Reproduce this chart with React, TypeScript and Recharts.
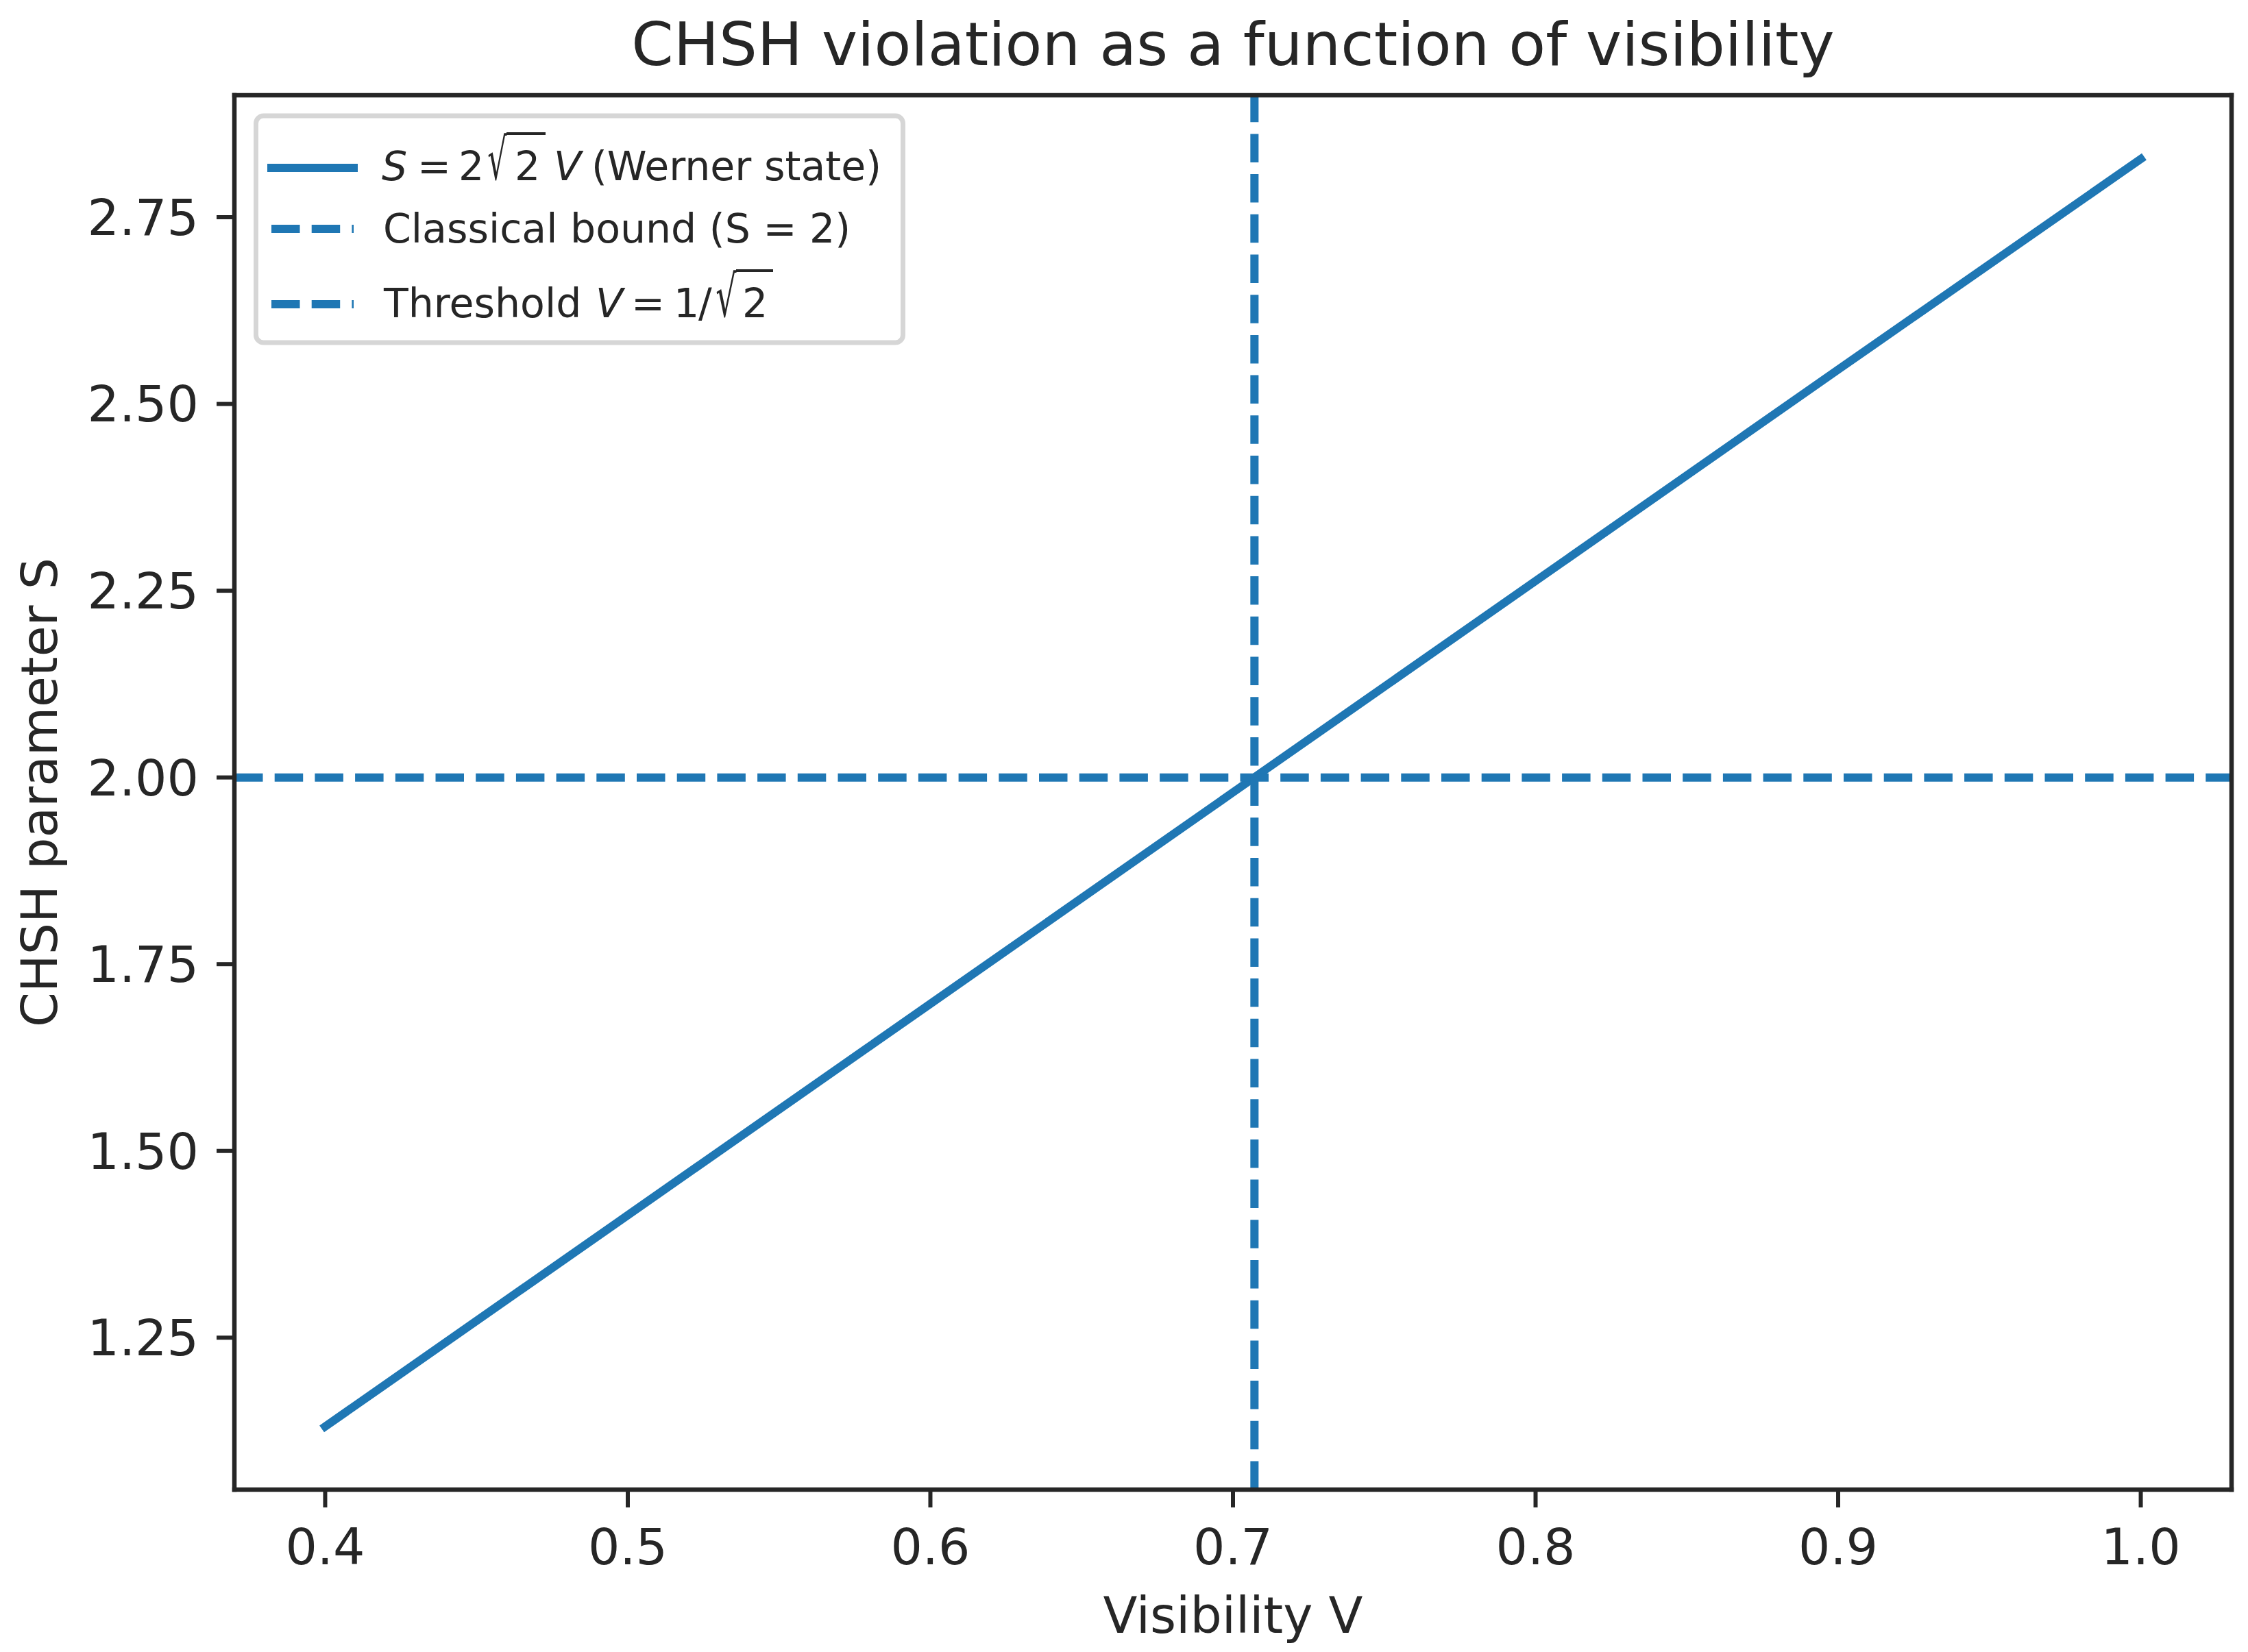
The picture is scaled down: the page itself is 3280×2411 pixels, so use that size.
import React from 'react';
import { LineChart, Line, XAxis, YAxis, ReferenceLine, Legend } from 'recharts';

const FONT = '"DejaVu Sans", "Liberation Sans", sans-serif';
const INK = '#262626';
const BLUE = '#1f77b4';

// data
const visibility = [0.4, 0.5, 0.6, 0.7, 0.8, 0.9, 1.0];
const chshS = [1.131, 1.414, 1.697, 1.98, 2.263, 2.546, 2.828];
const xTicks = [0.4, 0.5, 0.6, 0.7, 0.8, 0.9, 1.0];
const yTicks = [1.25, 1.5, 1.75, 2.0, 2.25, 2.5, 2.75];
const xDomain = [0.37, 1.03];
const yDomain = [1.0466, 2.9133];
const classicalBound = 2;
const thresholdV = 0.7071;

const titleText = 'CHSH violation as a function of visibility';
const xLabelText = 'Visibility V';
const yLabelText = 'CHSH parameter S';

const data = visibility.map((v, i) => ({ v, s: chshS[i] }));

const DASH = '41.5 17.2';
const LEG_FS = 58.5;

// measure the ink box of the radical glyph so it can be stretched like mathtext does
function radicalTransform(x0: number, x1: number, y0: number, y1: number): string {
  let L = 2, R = 33, A = 50, D = 6;
  try {
    const c = document.createElement('canvas');
    const ctx = c.getContext('2d');
    if (ctx) {
      ctx.font = `${LEG_FS}px "DejaVu Sans"`;
      const m = ctx.measureText('√');
      if (m.actualBoundingBoxRight > 0) {
        L = m.actualBoundingBoxLeft;
        R = m.actualBoundingBoxRight;
        A = m.actualBoundingBoxAscent;
        D = m.actualBoundingBoxDescent;
      }
    }
  } catch (e) {
    // keep defaults
  }
  const sx = (x1 - x0) / (R + L);
  const sy = (y1 - y0) / (A + D);
  const tx = x0 + L * sx;
  const ty = y0 + A * sy;
  return `translate(${tx},${ty}) scale(${sx},${sy})`;
}

function LegendContent() {
  const fs = LEG_FS;
  const rad1 = radicalTransform(712, 740, 193, 263);
  const rad3 = radicalTransform(1045, 1075, 393, 463);
  return (
    <svg width={3280} height={2411} style={{ position: 'absolute', left: 0, top: 0, pointerEvents: 'none' }}>
      <rect x={373.5} y={169} width={944} height={331} rx={11} ry={11} fill="#ffffff" fillOpacity={0.8} stroke="#d6d6d6" strokeWidth={7} />
      {/* handles */}
      <line x1={396} x2={516} y1={245} y2={245} stroke={BLUE} strokeWidth={12} strokeLinecap="square" />
      <line x1={396} x2={516} y1={334} y2={334} stroke={BLUE} strokeWidth={12} strokeDasharray={DASH} />
      <line x1={396} x2={516} y1={444} y2={444} stroke={BLUE} strokeWidth={12} strokeDasharray={DASH} />
      {/* row 1 */}
      <text y={263} fontFamily={FONT} fontSize={fs} fill={INK}>
        <tspan x={557} fontStyle="italic">S</tspan>
        <tspan x={609}>=</tspan>
        <tspan x={669}>2</tspan>
        <tspan x={751}>2</tspan>
        <tspan x={808} fontStyle="italic">V</tspan>
        <tspan x={863}>(Werner state)</tspan>
      </text>
      <text transform={rad1} x={0} y={0} fontFamily={FONT} fontSize={fs} fill={INK}>√</text>
      <line x1={739} x2={796} y1={195} y2={195} stroke={INK} strokeWidth={4} />
      {/* row 2 */}
      <text x={559} y={354} fontFamily={FONT} fontSize={fs} fill={INK}>Classical bound (S = 2)</text>
      {/* row 3 */}
      <text y={463} fontFamily={FONT} fontSize={fs} fill={INK}>
        <tspan x={560}>Threshold</tspan>
        <tspan x={869} fontStyle="italic">V</tspan>
        <tspan x={921}>=</tspan>
        <tspan x={983}>1</tspan>
        <tspan x={1019}>/</tspan>
        <tspan x={1083}>2</tspan>
      </text>
      <text transform={rad3} x={0} y={0} fontFamily={FONT} fontSize={fs} fill={INK}>√</text>
      <line x1={1074} x2={1128} y1={395} y2={395} stroke={INK} strokeWidth={4} />
    </svg>
  );
}

export default function App() {
  const tickStyle = { fill: INK, fontSize: 73, fontFamily: FONT };
  const axisLineStyle = { stroke: INK, strokeWidth: 6.5, strokeLinecap: 'square' as const };
  const tickLineStyle = { stroke: INK, strokeWidth: 6 };
  return (
    <div style={{ position: 'absolute', left: 0, top: 0, width: 3280, height: 2411, background: '#ffffff' }}>
      <LineChart width={3280} height={2411} data={data} margin={{ top: 139, right: 24, bottom: 0, left: 0 }}>
        <XAxis
          dataKey="v"
          type="number"
          domain={xDomain}
          ticks={xTicks}
          tickFormatter={(t: number) => t.toFixed(1)}
          height={237}
          tickSize={26}
          tickMargin={31}
          axisLine={axisLineStyle}
          tickLine={tickLineStyle}
          tick={tickStyle}
          interval={0}
          label={() => (
            <text x={1799} y={2383} textAnchor="middle" fontFamily={FONT} fontSize={73} fill={INK}>
              {xLabelText}
            </text>
          )}
        />
        <YAxis
          type="number"
          domain={yDomain}
          ticks={yTicks}
          tickFormatter={(t: number) => t.toFixed(2)}
          width={342}
          tickSize={26}
          tickMargin={26}
          axisLine={axisLineStyle}
          tickLine={tickLineStyle}
          tick={tickStyle}
          interval={0}
          label={() => (
            <text
              x={82.7}
              y={1156.5}
              transform="rotate(-90, 82.7, 1156.5)"
              textAnchor="middle"
              fontFamily={FONT}
              fontSize={73}
              fill={INK}
            >
              {yLabelText}
            </text>
          )}
        />
        <Line
          dataKey="s"
          type="linear"
          stroke={BLUE}
          strokeWidth={12}
          strokeLinecap="square"
          dot={false}
          activeDot={false}
          isAnimationActive={false}
        />
        <ReferenceLine y={classicalBound} stroke={BLUE} strokeWidth={12} strokeDasharray={DASH} />
        <ReferenceLine x={thresholdV} stroke={BLUE} strokeWidth={12} strokeDasharray={DASH} />
        {/* top and right spines of the axes frame */}
        <ReferenceLine y={yDomain[1]} stroke={INK} strokeWidth={6.5} strokeLinecap="square" />
        <ReferenceLine x={xDomain[1]} stroke={INK} strokeWidth={6.5} strokeLinecap="square" />
        <Legend
          layout="horizontal"
          verticalAlign="middle"
          align="center"
          wrapperStyle={{ left: 0, top: 0, width: 3280, height: 2411, pointerEvents: 'none', margin: 0 }}
          content={() => <LegendContent />}
        />
      </LineChart>
      <svg width={3280} height={200} style={{ position: 'absolute', left: 0, top: 0, pointerEvents: 'none' }}>
        <text x={1799} y={95} textAnchor="middle" fontFamily={FONT} fontSize={88} fill={INK}>
          {titleText}
        </text>
      </svg>
    </div>
  );
}
